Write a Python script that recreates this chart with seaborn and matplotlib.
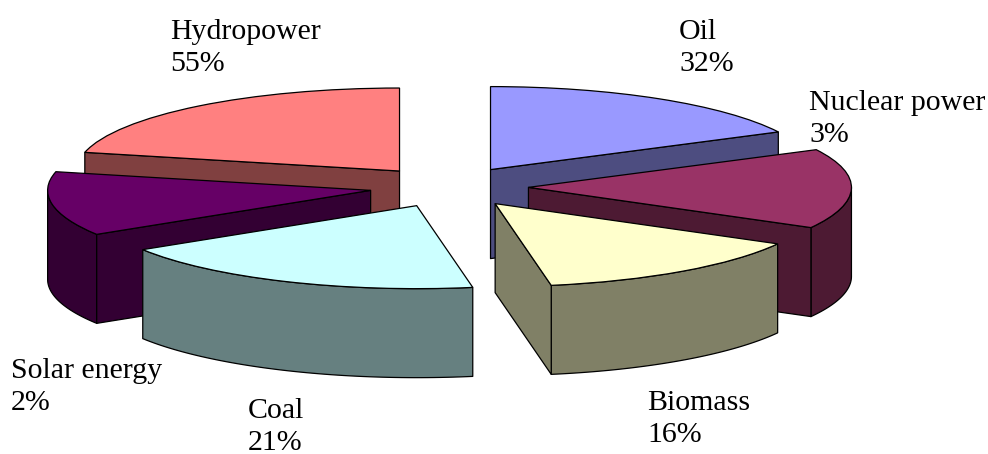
import numpy as np
import matplotlib
matplotlib.use("Agg")
import matplotlib.pyplot as plt
import seaborn as sns

# drawn counter-clockwise from 12 o'clock
categories = ["Hydropower", "Solar energy", "Coal", "Biomass", "Nuclear power", "Oil"]
percent_labels = ["55%", "2%", "21%", "16%", "3%", "32%"]
# the slices in the picture are not drawn to the printed percent, these are the visible sizes
slice_sizes = [77, 45, 68, 51, 56, 63]
top_colors = ["#FF8080", "#660066", "#CCFFFF", "#FFFFCC", "#993366", "#9999FF"]

W, H = 988, 454
CX, CY = 449, 187      # pie centre in pixels
RX, RY = 323, 83       # ellipse radii in pixels
DEPTH = 89 / RY

sns.set_theme(style="white")
plt.rcParams["font.family"] = ["Liberation Serif", "DejaVu Serif"]

fig = plt.figure(figsize=(W / 100, H / 100), dpi=100)
ax = fig.add_axes([0, 0, 1, 1])

wedges, _ = ax.pie(
    slice_sizes,
    colors=top_colors,
    startangle=90,
    counterclock=True,
    explode=[0.246] * len(slice_sizes),
    wedgeprops={"edgecolor": "black", "linewidth": 0.9},
)
ax.set_aspect("auto")
ax.set_xlim(-CX / RX, (W - CX) / RX)
ax.set_ylim((CY - H) / RY, CY / RY)
ax.axis("off")


def add_wall(xs, ys, color, z):
    px = np.concatenate([xs, xs[::-1]])
    py = np.concatenate([ys, ys[::-1] - DEPTH])
    ax.fill(px, py, facecolor=color, edgecolor="black", linewidth=0.9, zorder=z, joinstyle="round")


# back to front
draw_order = ["Hydropower", "Oil", "Solar energy", "Nuclear power", "Coal", "Biomass"]
for z, name in enumerate(draw_order):
    i = categories.index(name)
    w = wedges[i]
    x0, y0 = w.center
    t1, t2 = w.theta1, w.theta2
    dark = tuple(c * 0.5 for c in matplotlib.colors.to_rgb(top_colors[i]))
    base = z * 10 + 1

    # outer rim, only the part facing the viewer
    lo = max(t1, 180) if t2 > 180 else None
    if lo is not None and t1 < 360:
        hi = min(t2, 360)
        if hi > lo:
            th = np.radians(np.linspace(lo, hi, 60))
            add_wall(x0 + np.cos(th), y0 + np.sin(th), dark, base)

    # radial faces
    for ang, visible in ((t1, np.cos(np.radians(t1)) > 0.01), (t2, np.cos(np.radians(t2)) < -0.01)):
        if visible:
            a = np.radians(ang)
            add_wall(np.array([x0, x0 + np.cos(a)]), np.array([y0, y0 + np.sin(a)]), dark, base + 1)

    w.set_zorder(base + 2)

# label positions: left edge and last baseline in pixels
label_pos = {
    "Hydropower": (170, 71),
    "Oil": (679, 71),
    "Nuclear power": (809, 142),
    "Biomass": (647, 442),
    "Coal": (248, 450),
    "Solar energy": (11, 410),
}
for name, pct in zip(categories, percent_labels):
    x, y = label_pos[name]
    fig.text(x / W, 1 - y / H, name + "\n" + pct, ha="left", va="baseline",
             fontsize=21.5, color="black", linespacing=1.3, zorder=200)

fig.savefig("out.png", dpi=100)
